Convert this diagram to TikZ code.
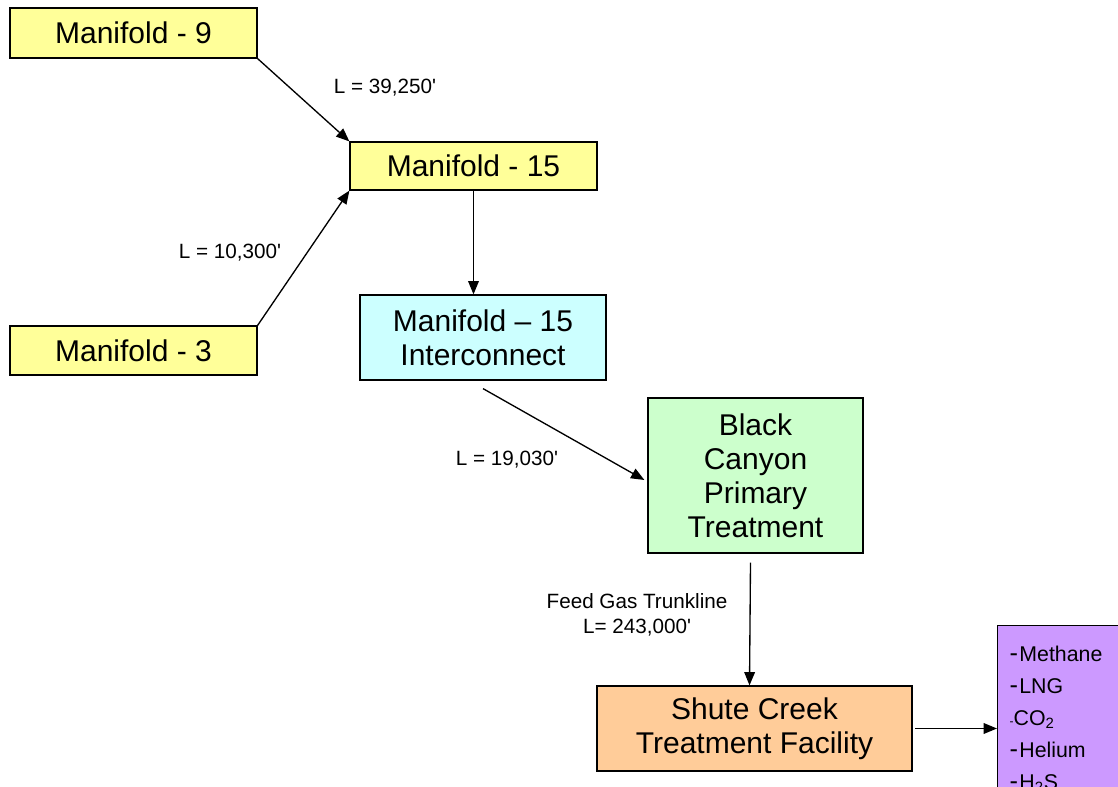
\documentclass[tikz,border=0pt]{standalone}
\usepackage{fontspec}
\setmainfont{Liberation Sans}
\usetikzlibrary{arrows.meta}
\definecolor{yelfill}{HTML}{FFFF99}
\definecolor{cyanfill}{HTML}{CCFFFF}
\definecolor{greenfill}{HTML}{CCFFCC}
\definecolor{orangefill}{HTML}{FFCC99}
\definecolor{purplefill}{HTML}{CC99FF}
\newcommand{\bigdash}{{\fontsize{19}{19}\selectfont -}\hspace{1pt}}
\newcommand{\smalldash}{{\fontsize{9}{9}\selectfont -}}
\newcommand{\ft}{\textquotesingle}
\begin{document}
\begin{tikzpicture}[x=0.75pt,y=-0.75pt,
  box/.style={draw, line width=0.9pt, inner sep=0pt, align=center,
    font=\fontsize{22.5}{25.5}\selectfont},
  lbl/.style={inner sep=0pt, align=center, font=\fontsize{15.5}{18.5}\selectfont},
  arr/.style={line width=1pt, -{Triangle[length=10pt,width=8pt]}}]
\useasboundingbox (0,0) rectangle (1118,787);
\clip (0,0) rectangle (1118,787);

\node[box, fill=yelfill, minimum width=185.25pt, minimum height=37.5pt] (m9) at (133.5,33) {Manifold - 9};
\node[box, fill=yelfill, minimum width=185.25pt, minimum height=36pt] (m15) at (473.5,166) {Manifold - 15};
\node[box, fill=yelfill, minimum width=185.25pt, minimum height=36.75pt] (m3) at (133.5,350.5) {Manifold - 3};
\node[box, fill=cyanfill, minimum width=184.5pt, minimum height=63.75pt] (ic) at (483,337.5) {Manifold -- 15\\Interconnect};
\node[box, fill=greenfill, minimum width=161.25pt, minimum height=116.25pt] (bc) at (755.5,475.5) {Black\\Canyon\\Primary\\Treatment};
\node[box, fill=orangefill, minimum width=236.25pt, minimum height=63.75pt] (sc) at (754.5,728.5) {Shute Creek\\Treatment Facility};
\node[draw, line width=0.9pt, fill=purplefill, anchor=north west,
  inner xsep=9pt, inner ysep=15pt, align=left, text width=110pt,
  font=\fontsize{16}{24}\selectfont] (out) at (997,625)
  {\bigdash Methane\\ \bigdash LNG\\ \smalldash CO\textsubscript{2}\\ \bigdash Helium\\ \bigdash H\textsubscript{2}S\\ \strut};

\draw[arr] (m9.south east) -- (m15.north west);
\draw[arr] (m3.north east) -- (m15.south west);
\draw[arr] (m15.south) -- (m15.south |- ic.north);
\draw[arr] ([yshift=-6pt]ic.south) -- ([shift={(-3,4.5)}]bc.west);
\draw[arr] ([shift={(-5,9)}]bc.south) -- ([xshift=-3.75pt]sc.north);
\draw[arr] ([xshift=2pt]sc.east) -- (sc.east -| out.west);

\node[lbl] (l1) at (385,88) {L = 39,250\ft};
\node[lbl] (l2) at (230,253) {L = 10,300\ft};
\node[lbl] (l3) at (507,460) {L = 19,030\ft};
\node[lbl] (l4) at (637,615) {Feed Gas Trunkline\\L= 243,000\ft};
\end{tikzpicture}
\end{document}
